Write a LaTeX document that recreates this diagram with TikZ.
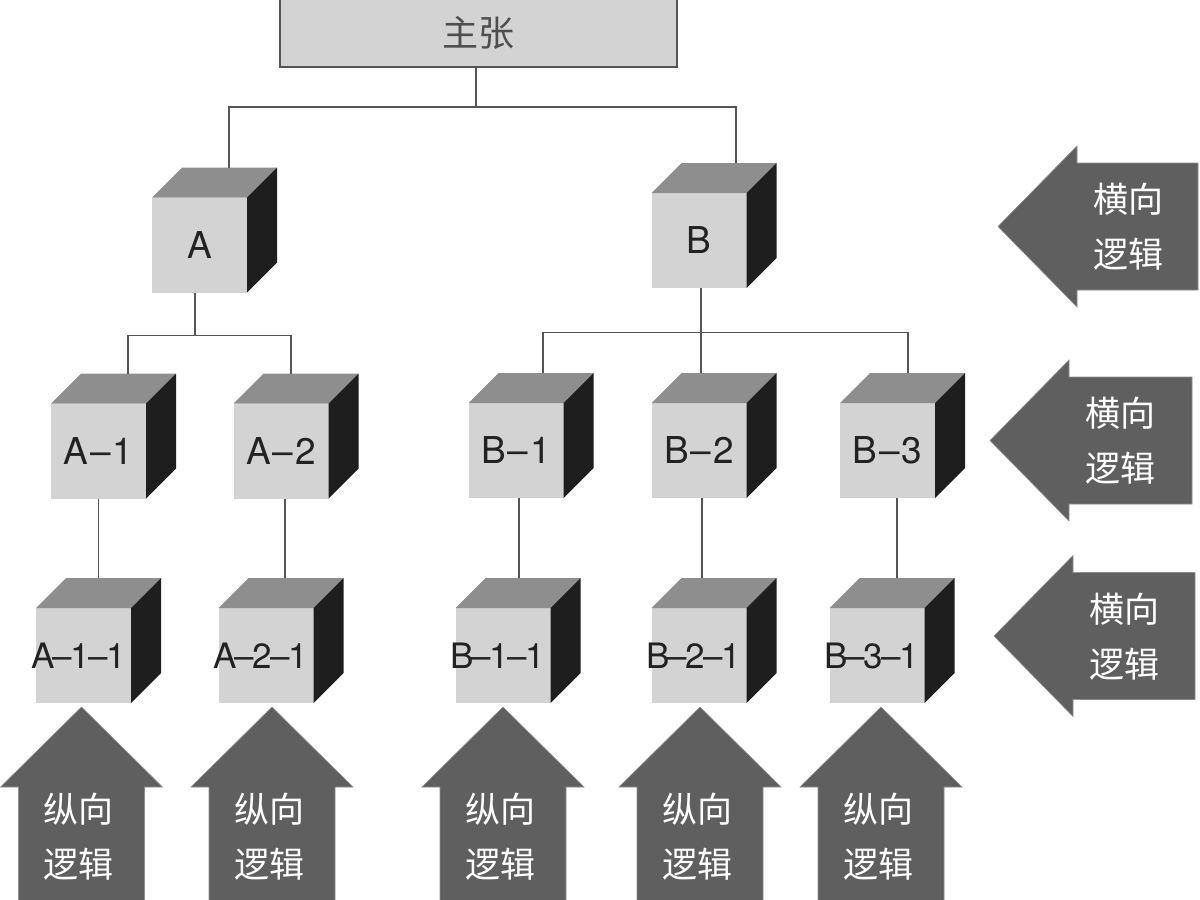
\documentclass[tikz,border=0pt]{standalone}
\usepackage{fontspec}
\setmainfont{TeX Gyre Heros}
\newfontfamily\cjk{Noto Sans CJK SC}
\definecolor{frontc}{HTML}{D3D3D3}
\definecolor{topc}{HTML}{8E8E8E}
\definecolor{sidec}{HTML}{1E1E1E}
\definecolor{arrc}{HTML}{5F5F5F}
\definecolor{linec}{HTML}{555555}
\definecolor{txtc}{HTML}{222222}
\tikzset{
  cubefront/.style={fill=frontc, minimum width=95pt, minimum height=95pt, inner sep=0pt, outer sep=0pt, text=txtc, font=\fontsize{37}{40}\selectfont},
  cubetop/.style={fill=topc},
  cubeside/.style={fill=sidec},
  conn/.style={draw=linec, line width=1.3pt},
  arrowshape/.style={fill=arrc, draw=arrc!70!white, line width=0.6pt},
  arrtext/.style={text=white, align=center, inner sep=0pt, font=\cjk\fontsize{35}{55}\selectfont},
  mainbox/.style={fill=frontc, draw=linec, line width=1.2pt, minimum width=397pt, minimum height=68pt, inner sep=0pt, outer sep=0pt, text=txtc!80!white, font=\cjk\fontsize{36}{40}\selectfont}
}
\newcommand\mycube[4]{%
  \node[cubefront] (#1) at (#2,#3) {#4};
  \fill[cubetop] (#1.north west) -- ++(30,-30) -- ++(95,0) -- (#1.north east) -- cycle;
  \fill[cubeside] (#1.north east) -- ++(30,-30) -- ++(0,95) -- (#1.south east) -- cycle;
  \coordinate (#1-t) at ([xshift=30pt,yshift=30pt]#1.north);
}
\newcommand\uparr[2]{%
  \fill[arrowshape] (#2,707) -- ++(81,80) -- ++(-18,0) -- ++(0,115) -- ++(-126,0) -- ++(0,-115) -- ++(-18,0) -- cycle;
  \node[arrtext] (#1) at ({#2-3},837) {纵向\\逻辑};
}
\newcommand\leftarr[4]{%
  \fill[arrowshape] (#2,#3) -- ++(79,-80.5) -- ++(0,17) -- ++({#4-#2-79},0) -- ++(0,127) -- ++({-(#4-#2-79)},0) -- ++(0,17) -- cycle;
  \node[arrtext] (#1) at ({#2+130},{#3+0.5}) {横向\\逻辑};
}
\newcommand\lthree[3]{\makebox[80pt][c]{\fontsize{35}{38}\selectfont #1\kern-2.5pt–\kern-1.5pt#2\kern-1.5pt–\kern-1.5pt#3\hspace*{10pt}}}
\begin{document}
\begin{tikzpicture}[x=1pt,y=-1pt]
\useasboundingbox[fill=white] (0,0) rectangle (1200,900);

% main claim
\node[mainbox] (main) at (478.5,33) {主张};

% cubes
\mycube{A}{199.5}{245}{A}
\mycube{B}{699}{240.5}{B}
\mycube{A1}{98.5}{451}{A\kern2pt–\kern2pt1}
\mycube{A2}{281}{451}{A\kern2pt–\kern2pt2}
\mycube{B1}{516}{450.5}{B\kern2pt–\kern2pt1}
\mycube{B2}{699}{450.5}{B\kern2pt–\kern2pt2}
\mycube{B3}{887.5}{450.5}{B\kern2pt–\kern2pt3}
\mycube{A11}{83.5}{655.5}{\lthree{A}{1}{1}}
\mycube{A21}{266}{655.5}{\lthree{A}{2}{1}}
\mycube{B11}{503}{655.5}{\lthree{B}{1}{1}}
\mycube{B21}{699}{655.5}{\lthree{B}{2}{1}}
\mycube{B31}{877}{655.5}{\lthree{B}{3}{1}}

% connectors: main -> A, B
\coordinate (m0) at ([xshift=-2.5pt]main.south);
\coordinate (bar1) at ([yshift=-40pt]m0);
\coordinate (at) at ([xshift=-0.5pt]A-t);
\coordinate (bt) at ([xshift=7pt]B-t);
\draw[conn] (m0) -- (bar1);
\draw[conn] (at) -- (at |- bar1) -- (bt |- bar1) -- (bt);

% A -> A1, A2
\coordinate (ab) at ([xshift=-4.5pt]A.south);
\coordinate (bar2) at ([yshift=-43pt]ab);
\coordinate (a1t) at ([xshift=-0.5pt]A1-t);
\coordinate (a2t) at ([xshift=-20pt]A2-t);
\draw[conn] (ab) -- (bar2);
\draw[conn] (a1t) -- (a1t |- bar2) -- (a2t |- bar2) -- (a2t);

% B -> B1, B2, B3
\coordinate (bb) at ([xshift=2pt]B.south);
\coordinate (bar3) at ([yshift=-44.5pt]bb);
\coordinate (b1t) at ([xshift=-3pt]B1-t);
\coordinate (b2t) at ([xshift=-28pt]B2-t);
\coordinate (b3t) at ([xshift=-9.5pt]B3-t);
\draw[conn] (bb) -- (b2t);
\draw[conn] (b1t) -- (b1t |- bar3) -- (b3t |- bar3) -- (b3t);

% level 2 -> level 3
\coordinate (a1b) at ([xshift=0pt]A1.south);
\coordinate (a2b) at ([xshift=4pt]A2.south);
\coordinate (b1b) at ([xshift=3pt]B1.south);
\coordinate (b2b) at ([xshift=3pt]B2.south);
\coordinate (b3b) at ([xshift=9.5pt]B3.south);
\draw[conn] (a1b) -- (a1b |- A11-t);
\draw[conn] (a2b) -- (a2b |- A21-t);
\draw[conn] (b1b) -- (b1b |- B11-t);
\draw[conn] (b2b) -- (b2b |- B21-t);
\draw[conn] (b3b) -- (b3b |- B31-t);

% vertical logic arrows
\uparr{v1}{81.5}
\uparr{v2}{272}
\uparr{v3}{503}
\uparr{v4}{700}
\uparr{v5}{881}

% horizontal logic arrows
\leftarr{h1}{998}{226.5}{1198}
\leftarr{h2}{990}{440.5}{1192}
\leftarr{h3}{994}{636}{1195}
\end{tikzpicture}
\end{document}
